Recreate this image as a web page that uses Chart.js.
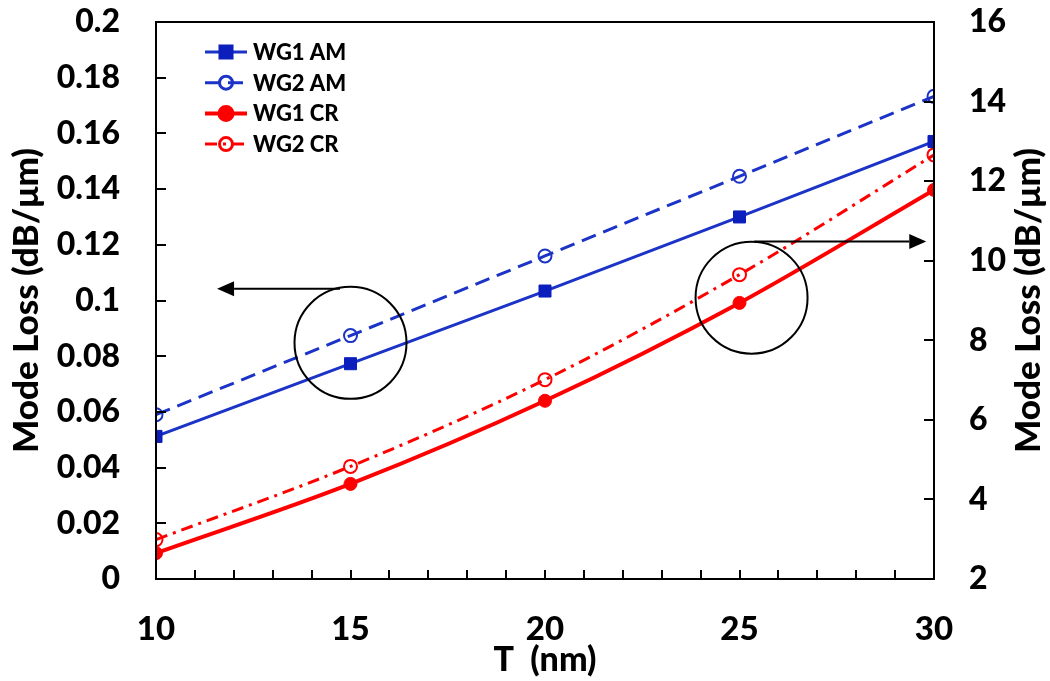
<!DOCTYPE html>
<html>
<head>
<meta charset="utf-8">
<script src="https://cdn.jsdelivr.net/npm/chart.js@4.4.1/dist/chart.umd.min.js"></script>
<style>
  html, body { margin: 0; padding: 0; background: #ffffff; }
  #wrap { width: 1050px; height: 681px; }
</style>
</head>
<body>
<div id="wrap"><canvas id="chart" width="1050" height="681"></canvas></div>
<script>
// Waveguide thickness T (nm)
const thickness = [10, 15, 20, 25, 30];

// Mode loss, left axis (dB/µm)
const wg1AM = [0.0512, 0.0773, 0.1034, 0.1300, 0.1571];
const wg2AM = [0.0590, 0.0874, 0.1160, 0.1446, 0.1733];

// Mode loss, right axis (dB/µm)
const wg1CR = [2.65, 4.39, 6.48, 8.94, 11.78];
const wg2CR = [2.99, 4.83, 7.01, 9.65, 12.66];

// Axis ticks and their labels
const xTicks = [10, 15, 20, 25, 30];
const xTickLabels = ['10', '15', '20', '25', '30'];
const leftTicks = [0, 0.02, 0.04, 0.06, 0.08, 0.1, 0.12, 0.14, 0.16, 0.18, 0.2];
const leftTickLabels = ['0', '0.02', '0.04', '0.06', '0.08', '0.1', '0.12', '0.14', '0.16', '0.18', '0.2'];
const rightTicks = [2, 4, 6, 8, 10, 12, 14, 16];
const rightTickLabels = ['2', '4', '6', '8', '10', '12', '14', '16'];

const seriesNames = ['WG1 AM', 'WG2 AM', 'WG1 CR', 'WG2 CR'];

const FONT = 'Lato, "Open Sans", "DejaVu Sans", sans-serif';
const WEIGHT = '900';
const BLUE = '#1b33c6';
const BLUE_DARK = '#0c1fbd';
const RED = '#ff0000';

const toPoints = (ys) => thickness.map((x, i) => ({ x: x, y: ys[i] }));

// Circle-and-arrow callouts marking which axis each pair of curves uses
const callouts = [
  { axis: 'y',  cx: 15.0,  cy: 0.0848, r: 56, arrowY: 0.1042, from: 14.73, to: 11.57 },
  { axis: 'y1', cx: 25.31, cy: 9.07,   r: 56, arrowY: 10.48,  from: 25.38, to: 29.80 }
];

const framePlugin = {
  id: 'frameAndTicks',
  afterDraw(chart) {
    const { ctx, chartArea: a, scales } = chart;
    ctx.save();
    ctx.strokeStyle = '#000';
    ctx.lineWidth = 2;
    ctx.setLineDash([]);
    ctx.strokeRect(a.left, a.top, a.right - a.left, a.bottom - a.top);

    // inward tick marks
    ctx.beginPath();
    const xs = scales.x;
    for (let v = xs.min; v <= xs.max; v += 1) {
      const px = Math.round(xs.getPixelForValue(v));
      ctx.moveTo(px, a.bottom);
      ctx.lineTo(px, a.bottom - 9);
    }
    leftTicks.forEach(v => {
      const py = Math.round(scales.y.getPixelForValue(v));
      ctx.moveTo(a.left, py);
      ctx.lineTo(a.left + 10, py);
    });
    rightTicks.forEach(v => {
      const py = Math.round(scales.y1.getPixelForValue(v));
      ctx.moveTo(a.right, py);
      ctx.lineTo(a.right - 10, py);
    });
    ctx.stroke();

    // right axis title, reading upward like the left one
    ctx.fillStyle = '#000';
    ctx.font = WEIGHT + ' 35px ' + FONT;
    ctx.textAlign = 'center';
    ctx.textBaseline = 'middle';
    ctx.translate(1029, (a.top + a.bottom) / 2);
    ctx.rotate(-Math.PI / 2);
    ctx.fillText('Mode Loss (dB/\u03bcm)', 0, 0);
    ctx.restore();
  }
};

const calloutPlugin = {
  id: 'callouts',
  afterDatasetsDraw(chart) {
    const { ctx, scales } = chart;
    ctx.save();
    ctx.strokeStyle = '#000';
    ctx.fillStyle = '#000';
    ctx.lineWidth = 2;
    ctx.setLineDash([]);
    callouts.forEach(c => {
      const ys = scales[c.axis];
      const cx = scales.x.getPixelForValue(c.cx);
      const cy = ys.getPixelForValue(c.cy);
      ctx.beginPath();
      ctx.arc(cx, cy, c.r, 0, Math.PI * 2);
      ctx.stroke();

      const ay = ys.getPixelForValue(c.arrowY);
      const x0 = scales.x.getPixelForValue(c.from);
      const x1 = scales.x.getPixelForValue(c.to);
      const dir = Math.sign(x1 - x0);
      const head = 17;
      ctx.beginPath();
      ctx.moveTo(x0, ay);
      ctx.lineTo(x1 - dir * head, ay);
      ctx.stroke();
      ctx.beginPath();
      ctx.moveTo(x1, ay);
      ctx.lineTo(x1 - dir * head, ay - 7.5);
      ctx.lineTo(x1 - dir * head, ay + 7.5);
      ctx.closePath();
      ctx.fill();
    });
    ctx.restore();
  }
};

const legendPlugin = {
  id: 'insideLegend',
  afterDraw(chart) {
    const { ctx, chartArea: a } = chart;
    const x0 = a.left + 49, x1 = a.left + 91, xm = (x0 + x1) / 2, xt = a.left + 97;
    ctx.save();
    chart.data.datasets.forEach((ds, i) => {
      const y = a.top + 30 + i * 30.7;
      ctx.strokeStyle = ds.borderColor;
      ctx.lineWidth = ds.borderWidth;
      ctx.setLineDash(ds.borderDash || []);
      ctx.beginPath();
      ctx.moveTo(x0, y);
      ctx.lineTo(x1, y);
      ctx.stroke();
      ctx.setLineDash([]);
      ctx.fillStyle = ds.pointBackgroundColor;
      ctx.strokeStyle = ds.pointBorderColor;
      Chart.helpers.drawPoint(ctx, {
        pointStyle: ds.pointStyle,
        radius: ds.pointRadius,
        borderWidth: ds.pointBorderWidth,
        rotation: 0
      }, xm, y);
      ctx.fillStyle = '#000';
      ctx.font = WEIGHT + ' 22px ' + FONT;
      ctx.textAlign = 'left';
      ctx.textBaseline = 'middle';
      ctx.fillText(ds.label, xt, y + 1);
    });
    ctx.restore();
  }
};

new Chart(document.getElementById('chart'), {
  type: 'line',
  data: {
    datasets: [
      {
        label: seriesNames[0], data: toPoints(wg1AM), yAxisID: 'y',
        borderColor: BLUE, borderWidth: 3, tension: 0,
        pointStyle: 'rect', pointRadius: 8.5, pointBorderWidth: 1,
        pointBackgroundColor: BLUE_DARK, pointBorderColor: BLUE_DARK
      },
      {
        label: seriesNames[1], data: toPoints(wg2AM), yAxisID: 'y',
        borderColor: BLUE, borderWidth: 3, borderDash: [15, 8], tension: 0,
        pointStyle: 'circle', pointRadius: 6.5, pointBorderWidth: 2,
        pointBackgroundColor: 'rgba(0,0,0,0)', pointBorderColor: BLUE
      },
      {
        label: seriesNames[2], data: toPoints(wg1CR), yAxisID: 'y1',
        borderColor: RED, borderWidth: 4, cubicInterpolationMode: 'monotone',
        pointStyle: 'circle', pointRadius: 6.5, pointBorderWidth: 1,
        pointBackgroundColor: RED, pointBorderColor: RED
      },
      {
        label: seriesNames[3], data: toPoints(wg2CR), yAxisID: 'y1',
        borderColor: RED, borderWidth: 3, borderDash: [12, 6, 3, 6], cubicInterpolationMode: 'monotone',
        pointStyle: 'circle', pointRadius: 6.5, pointBorderWidth: 2,
        pointBackgroundColor: 'rgba(0,0,0,0)', pointBorderColor: RED
      }
    ]
  },
  options: {
    responsive: false,
    devicePixelRatio: 1,
    animation: false,
    layout: { padding: { top: 22, left: 0, right: 0, bottom: 0 } },
    plugins: { legend: { display: false }, tooltip: { enabled: false } },
    scales: {
      x: {
        type: 'linear', position: 'bottom', min: 10, max: 30,
        afterBuildTicks: s => { s.ticks = xTicks.map(v => ({ value: v })); },
        afterFit: s => { s.height = 102; s.paddingLeft = 0; s.paddingRight = 0; },
        grid: { display: false, drawTicks: false, tickLength: 0 },
        border: { display: false },
        ticks: {
          callback: (v, i) => xTickLabels[i], autoSkip: false, maxRotation: 0,
          color: '#000', padding: 31, font: { family: FONT, size: 33, weight: WEIGHT }
        },
        title: {
          display: true, text: 'T  (nm)', color: '#000',
          padding: { top: 0, bottom: 1 }, font: { family: FONT, size: 34, weight: WEIGHT }
        }
      },
      y: {
        type: 'linear', position: 'left', min: 0, max: 0.2,
        afterBuildTicks: s => { s.ticks = leftTicks.map(v => ({ value: v })); },
        afterFit: s => { s.width = 156; s.paddingTop = 0; s.paddingBottom = 0; },
        grid: { display: false, drawTicks: false, tickLength: 0 },
        border: { display: false },
        ticks: {
          callback: (v, i) => leftTickLabels[i], autoSkip: false,
          color: '#000', padding: 36, font: { family: FONT, size: 32, weight: WEIGHT }
        },
        title: {
          display: true, text: 'Mode Loss (dB/\u03bcm)', color: '#000',
          padding: { top: 6, bottom: 0 }, font: { family: FONT, size: 35, weight: WEIGHT }
        }
      },
      y1: {
        type: 'linear', position: 'right', min: 2, max: 16,
        afterBuildTicks: s => { s.ticks = rightTicks.map(v => ({ value: v })); },
        afterFit: s => { s.width = 116; s.paddingTop = 0; s.paddingBottom = 0; },
        grid: { display: false, drawTicks: false, tickLength: 0 },
        border: { display: false },
        ticks: {
          callback: (v, i) => rightTickLabels[i], autoSkip: false,
          color: '#000', padding: 35, font: { family: FONT, size: 32, weight: WEIGHT }
        }
      }
    }
  },
  plugins: [framePlugin, calloutPlugin, legendPlugin]
});
</script>
</body>
</html>
